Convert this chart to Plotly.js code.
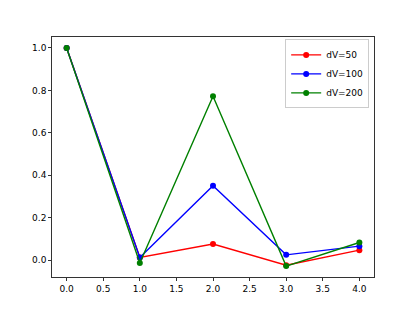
<!DOCTYPE html>
<html><head><meta charset="utf-8">
<script src="https://cdn.plot.ly/plotly-3.0.1.min.js"></script>
<style>html,body{margin:0;padding:0;background:#fff}#c{width:415px;height:311px}</style>
</head><body><div id="c"></div>
<script>
const xs = [0, 1, 2, 3, 4];
const dv50 = [1.0, 0.013, 0.076, -0.024, 0.047];
const dv100 = [1.0, 0.013, 0.351, 0.025, 0.066];
const dv200 = [1.0, -0.013, 0.772, -0.028, 0.083];
const names = ['dV=50', 'dV=100', 'dV=200'];
const colors = ['#ff0000', '#0000ff', '#008000'];
const series = [dv50, dv100, dv200];

const traces = series.map((ys, i) => ({
  x: xs, y: ys, name: names[i], mode: 'lines+markers', type: 'scatter',
  line: {color: colors[i], width: 1.4},
  marker: {color: colors[i], size: 6}
}));

const axBase = {
  showgrid: false, zeroline: false, showline: true, mirror: true,
  linecolor: '#000', linewidth: 0.8, ticks: 'outside', ticklen: 3,
  tickcolor: '#000', tickwidth: 0.8,
  tickfont: {family: 'DejaVu Sans', size: 9, color: '#000'}
};

const layout = {
  width: 415, height: 311,
  margin: {l: 52, r: 41, t: 37, b: 34},
  paper_bgcolor: '#fff', plot_bgcolor: '#fff',
  showlegend: true,
  legend: {
    x: 0.985, y: 0.99, xanchor: 'right', yanchor: 'top',
    bgcolor: 'rgba(255,255,255,0.8)', bordercolor: '#ccc', borderwidth: 1,
    font: {family: 'DejaVu Sans', size: 9, color: '#000'},
    tracegroupgap: 0, itemwidth: 30
  },
  xaxis: Object.assign({}, axBase, {range: [-0.2, 4.2], tickvals: [0,0.5,1,1.5,2,2.5,3,3.5,4], ticktext: ['0.0','0.5','1.0','1.5','2.0','2.5','3.0','3.5','4.0']}),
  yaxis: Object.assign({}, axBase, {range: [-0.0794, 1.0514], tickvals: [0,0.2,0.4,0.6,0.8,1.0], ticktext: ['0.0','0.2','0.4','0.6','0.8','1.0']})
};

Plotly.newPlot('c', traces, layout, {displayModeBar: false, staticPlot: true});
</script></body></html>
